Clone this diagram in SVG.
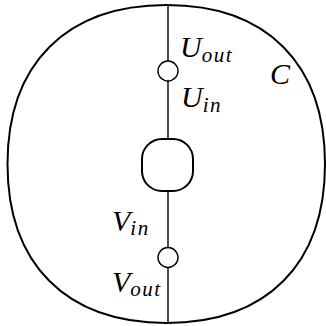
<svg xmlns="http://www.w3.org/2000/svg" width="326" height="326" viewBox="0 0 326 326">
<style>
.thick{fill:none;stroke:#000;stroke-width:2}
.thin{fill:#fff;stroke:#000;stroke-width:1.4}
.lbl{font-family:"Liberation Serif","DejaVu Serif",serif;font-style:italic;font-size:30px;fill:#000}
.sub{font-size:21px;letter-spacing:1.5px}
</style>
<rect width="326" height="326" fill="#fff"/>
<g id="C">
<path class="thick" d="M166.5,5 C266.7,5 325,63.8 325,164 C325,264.2 266.7,323 166.5,323 C66.3,323 7.5,264.2 7.5,164 C7.5,63.8 66.3,5 166.5,5 Z"/>
<text class="lbl" x="270" y="84">C</text>
</g>
<g id="connectors">
<line x1="168" y1="5" x2="168" y2="323" stroke="#000" stroke-width="1.4"/>
</g>
<g id="center">
<rect class="thin" x="142" y="139" width="51" height="52" rx="20" style="stroke-width:2"/>
</g>
<g id="U">
<circle class="thin" cx="168" cy="71" r="10"/>
<text class="lbl" x="180" y="57">U<tspan class="sub" dy="5">out</tspan></text>
<text class="lbl" x="181" y="107">U<tspan class="sub" dy="5">in</tspan></text>
</g>
<g id="V">
<circle class="thin" cx="168" cy="257.5" r="10"/>
<text class="lbl" x="112" y="231">V<tspan class="sub" dy="4">in</tspan></text>
<text class="lbl" x="112" y="292">V<tspan class="sub" dy="4">out</tspan></text>
</g>
</svg>
